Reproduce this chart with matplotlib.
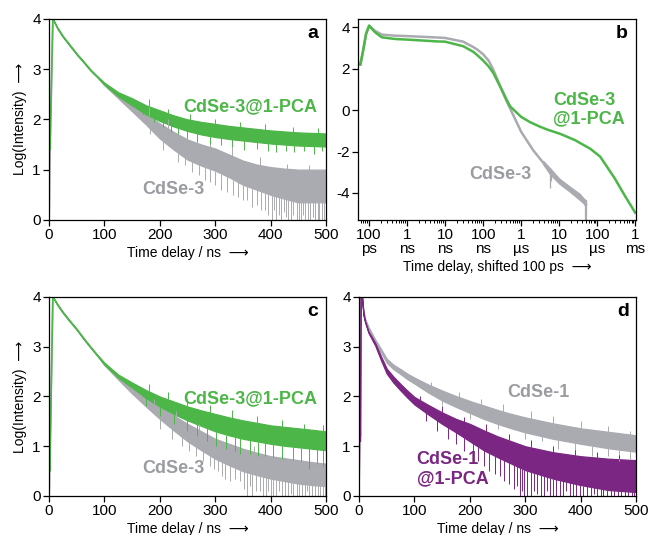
import numpy as np
import matplotlib
matplotlib.use('Agg')
import matplotlib.pyplot as plt
from matplotlib.ticker import LogLocator, NullFormatter

plt.rcParams['font.family'] = ['Liberation Sans', 'DejaVu Sans']
plt.rcParams['axes.unicode_minus'] = False

GREEN = '#4cb648'
GRAY = '#a9abb0'
GRAY_TXT = '#9a9ca1'
PURPLE = '#7a2682'

#
# panel a : CdSe-3 and CdSe-3@1-PCA, linear time (ns)
#
a_rise_t = [0, 0.8, 1.6, 7]
a_green_rise = [1.4, 2.25, 1.4, 4.0]
a_gray_rise = [0.0, 0.3, 1.0, 4.0]
a_t = [7, 15, 25, 35, 50, 62, 75, 87, 100, 125, 150, 175, 200, 225, 250, 275, 300, 325, 350, 375, 400, 425, 450, 475, 500]
a_green_hi = [4.0, 3.83, 3.66, 3.52, 3.31, 3.16, 2.99, 2.86, 2.73, 2.54, 2.42, 2.28, 2.18, 2.08, 2.0, 1.95, 1.91, 1.87, 1.84, 1.81, 1.78, 1.76, 1.74, 1.73, 1.72]
a_green_lo = [4.0, 3.81, 3.64, 3.5, 3.29, 3.14, 2.97, 2.84, 2.69, 2.46, 2.28, 2.1, 1.97, 1.86, 1.77, 1.7, 1.65, 1.61, 1.58, 1.55, 1.52, 1.5, 1.48, 1.47, 1.46]
a_gray_hi = [4.0, 3.83, 3.66, 3.52, 3.31, 3.16, 2.99, 2.86, 2.72, 2.5, 2.3, 2.1, 1.92, 1.75, 1.6, 1.5, 1.42, 1.3, 1.18, 1.1, 1.05, 1.02, 1.0, 1.0, 1.0]
a_gray_lo = [4.0, 3.81, 3.64, 3.5, 3.29, 3.14, 2.97, 2.84, 2.68, 2.42, 2.16, 1.9, 1.62, 1.4, 1.2, 1.08, 0.98, 0.85, 0.7, 0.6, 0.5, 0.42, 0.35, 0.35, 0.35]
a_gray_dip_t = [182, 205, 232, 245, 258, 270, 281, 290, 300, 311, 322, 333, 341, 350, 358, 367, 376, 383, 390, 396, 402, 406, 410, 415, 419, 424, 428, 432, 436, 441, 447, 451, 455, 459, 463, 468, 472, 477, 481, 485, 488, 492, 496]
a_gray_dip_v = [1.7, 1.4, 1.15, 1.1, 0.95, 0.9, 0.8, 0.75, 0.7, 0.6, 0.55, 0.5, 0.45, 0.4, 0.4, 0.25, 0.3, 0.2, 0.2, 0.1, 0.0, 0.2, 0.0, 0.1, 0.0, 0.15, 0.05, 0.0, 0.0, 0.1, 0.0, 0.0, 0.0, 0.1, 0.0, 0.0, 0.0, 0.05, 0.0, 0.0, 0.0, 0.0, 0.0]
a_gray_spk_t = [180, 215, 250, 290, 330, 380, 430, 470]
a_gray_spk_v = [2.25, 2.0, 1.75, 1.6, 1.45, 1.25, 1.12, 1.1]
a_green_dip_t = [170, 190, 205, 220, 232, 250, 268, 290, 310, 330, 352, 375, 395, 410, 428, 443, 460, 478, 492]
a_green_dip_v = [2.1, 1.95, 1.85, 1.75, 1.7, 1.62, 1.55, 1.52, 1.5, 1.45, 1.4, 1.42, 1.38, 1.35, 1.38, 1.35, 1.37, 1.32, 1.38]
a_green_spk_t = [180, 215, 255, 300, 345, 390, 440, 485]
a_green_spk_v = [2.4, 2.2, 2.1, 2.0, 1.95, 1.9, 1.84, 1.82]

#
# panel b : same samples, log time axis (ns)
#
b_green_t = [0.059, 0.071, 0.083, 0.1, 0.144, 0.216, 0.48, 1, 6.6, 10, 30, 55, 70, 100, 140, 184, 240, 306, 414, 510, 1000, 1700,
             3100, 5000, 10700, 26000, 66000, 1.2e5, 2.9e5, 5.4e5, 1e6]
b_green_v = [2.2, 2.95, 3.67, 4.08, 3.75, 3.51, 3.43, 3.4, 3.31, 3.3, 3.08, 2.81, 2.65, 2.39, 2.1, 1.8, 1.38, 1.0, 0.5, 0.18, -0.33, -0.58,
             -0.8, -0.95, -1.15, -1.45, -1.87, -2.25, -3.3, -4.15, -4.95]
b_gray_t = [0.059, 0.071, 0.083, 0.1, 0.144, 0.216, 0.48, 1, 6.6, 10, 30, 55, 70, 100, 140, 184, 240, 306, 414, 621, 1000, 2090, 3800,
            5740, 10000, 19300, 43400, 50900]
b_gray_v = [2.2, 2.95, 3.67, 4.05, 3.82, 3.64, 3.59, 3.57, 3.5, 3.48, 3.3, 3.04, 2.92, 2.69, 2.38, 1.96, 1.45, 0.98, 0.43, -0.25, -1.05,
            -1.95, -2.54, -2.94, -3.42, -3.82, -4.38, -4.55]
b_gray_noise_t = [3800, 5740, 10000, 19300, 35400, 43400, 50900]
b_gray_noise_hi = [-2.45, -2.8, -3.3, -3.7, -4.05, -4.25, -4.35]
b_gray_noise_lo = [-2.62, -3.1, -3.55, -3.95, -4.35, -4.5, -4.7]
b_gray_dip_t = [5700, 6200, 49000, 50500]
b_gray_dip_v = [-3.75, -3.4, -5.3, -5.3]
b_ticks = [0.1, 1, 10, 100, 1e3, 1e4, 1e5, 1e6]
b_ticklabels = ['100\nps', '1\nns', '10\nns', '100\nns', '1\nµs', '10\nµs', '100\nµs', '1\nms']

#
# panel c : second CdSe-3 / CdSe-3@1-PCA pair
#
c_rise_t = [0, 0.8, 1.6, 7]
c_green_rise = [0.0, 1.45, 0.5, 4.0]
c_gray_rise = [0.0, 0.2, 0.8, 4.0]
c_t = [7, 15, 25, 35, 50, 62, 75, 87, 100, 125, 150, 175, 200, 225, 250, 275, 300, 325, 350, 375, 400, 425, 450, 475, 500]
c_green_hi = [4.0, 3.86, 3.7, 3.56, 3.36, 3.18, 3.0, 2.84, 2.68, 2.44, 2.28, 2.13, 2.0, 1.9, 1.8, 1.72, 1.65, 1.58, 1.52, 1.47, 1.42, 1.39, 1.36, 1.33, 1.3]
c_green_lo = [4.0, 3.84, 3.68, 3.54, 3.34, 3.16, 2.98, 2.82, 2.64, 2.38, 2.18, 1.97, 1.8, 1.65, 1.52, 1.41, 1.3, 1.22, 1.15, 1.1, 1.05, 1.01, 0.98, 0.95, 0.92]
c_gray_hi = [4.0, 3.86, 3.7, 3.56, 3.36, 3.18, 3.0, 2.84, 2.67, 2.4, 2.18, 1.98, 1.8, 1.62, 1.45, 1.3, 1.15, 1.05, 0.95, 0.87, 0.8, 0.76, 0.72, 0.68, 0.65]
c_gray_lo = [4.0, 3.84, 3.68, 3.54, 3.34, 3.16, 2.98, 2.82, 2.63, 2.34, 2.06, 1.8, 1.55, 1.32, 1.1, 0.92, 0.75, 0.62, 0.5, 0.42, 0.35, 0.3, 0.25, 0.22, 0.2]
c_gray_dip_t = [200, 222, 240, 252, 265, 278, 290, 298, 305, 312, 318, 326, 335, 345, 352, 358, 363, 367, 374, 380, 386, 392, 396, 400, 405, 410, 415, 420, 426, 432, 437, 441, 447, 452, 457, 462, 466, 470, 475, 480, 485, 490, 494, 498]
c_gray_dip_v = [1.35, 1.15, 1.0, 0.9, 0.8, 0.7, 0.6, 0.55, 0.5, 0.4, 0.35, 0.3, 0.35, 0.3, 0.15, 0.0, 0.2, 0.0, 0.1, 0.1, 0.0, 0.0, 0.1, 0.0, 0.0, 0.0, 0.1, 0.0, 0.0, 0.0, 0.05, 0.0, 0.0, 0.0, 0.0, 0.0, 0.1, 0.0, 0.0, 0.0, 0.0, 0.0, 0.0, 0.0]
c_gray_spk_t = [190, 230, 270, 320, 370, 420, 470]
c_gray_spk_v = [1.95, 1.7, 1.45, 1.2, 1.0, 0.9, 0.85]
c_green_dip_t = [175, 200, 225, 250, 268, 285, 302, 320, 335, 345, 362, 378, 390, 405, 420, 440, 455, 470, 483, 495]
c_green_dip_v = [1.8, 1.6, 1.45, 1.3, 1.2, 1.1, 1.0, 0.95, 0.9, 0.85, 0.85, 0.8, 0.8, 0.78, 0.75, 0.72, 0.7, 0.55, 0.65, 0.6]
c_green_spk_t = [180, 215, 250, 290, 330, 375, 420, 460, 495]
c_green_spk_v = [2.25, 2.1, 1.95, 1.82, 1.72, 1.6, 1.52, 1.45, 1.42]

#
# panel d : CdSe-1 and CdSe-1@1-PCA
#
d_rise_t = [0, 1, 2.5, 4]
d_purple_rise = [0.0, 1.1, 1.1, 4.2]
d_gray_rise = [0.0, 1.7, 1.2, 4.2]
d_t = [4, 6, 8, 11, 17, 29, 40, 50, 62, 75, 87, 100, 125, 150, 175, 200, 225, 250, 275, 300, 350, 400, 450, 500]
d_purple_hi = [4.2, 3.9, 3.66, 3.51, 3.31, 3.08, 2.8, 2.56, 2.4, 2.25, 2.12, 1.99, 1.83, 1.68, 1.55, 1.45, 1.32, 1.2, 1.1, 1.0, 0.88, 0.8, 0.75, 0.72]
d_purple_lo = [4.2, 3.9, 3.64, 3.49, 3.28, 3.03, 2.72, 2.46, 2.28, 2.12, 1.98, 1.84, 1.64, 1.45, 1.28, 1.1, 0.92, 0.78, 0.65, 0.52, 0.35, 0.22, 0.12, 0.08]
d_gray_hi = [4.2, 3.95, 3.71, 3.56, 3.4, 3.15, 2.95, 2.76, 2.64, 2.55, 2.46, 2.38, 2.24, 2.12, 2.01, 1.91, 1.82, 1.73, 1.65, 1.58, 1.46, 1.36, 1.29, 1.22]
d_gray_lo = [4.2, 3.95, 3.69, 3.54, 3.36, 3.09, 2.88, 2.68, 2.55, 2.45, 2.35, 2.26, 2.08, 1.92, 1.79, 1.67, 1.55, 1.45, 1.36, 1.28, 1.15, 1.05, 0.96, 0.89]
d_purple_dip_t = [120, 140, 160, 175, 190, 205, 215, 225, 235, 245, 254, 262, 270, 280, 285, 290, 294, 298, 304, 310, 316, 322, 328, 334, 340, 345, 350, 356, 362, 368, 374, 380, 386, 392, 398, 405, 411, 418, 424, 430, 436, 441, 448, 455, 461, 467, 473, 480, 486, 492, 497]
d_purple_dip_v = [1.5, 1.3, 1.15, 1.05, 0.9, 0.75, 0.7, 0.6, 0.5, 0.45, 0.4, 0.3, 0.25, 0.15, 0.2, 0.0, 0.1, 0.0, 0.0, 0.0, 0.1, 0.05, 0.0, 0.0, 0.1, 0.0, 0.0, 0.0, 0.0, 0.0, 0.1, 0.0, 0.0, 0.0, 0.0, 0.0, 0.0, 0.0, 0.05, 0.0, 0.0, 0.0, 0.0, 0.0, 0.0, 0.0, 0.0, 0.0, 0.0, 0.0, 0.0]
d_purple_spk_t = [110, 150, 190, 230, 270, 310, 350, 390, 430, 470]
d_purple_spk_v = [2.0, 1.8, 1.58, 1.45, 1.25, 1.12, 1.0, 0.92, 0.88, 0.82]
d_gray_dip_t = [150, 200, 250, 300, 330, 360, 390, 420, 450, 470, 490]
d_gray_dip_v = [1.82, 1.55, 1.35, 1.15, 1.1, 0.95, 0.9, 0.8, 0.8, 0.7, 0.75]
d_gray_spk_t = [130, 180, 220, 260, 310, 350, 400, 450, 490]
d_gray_spk_v = [2.3, 2.1, 1.95, 1.85, 1.7, 1.6, 1.5, 1.4, 1.3]

ARROW = '  \u27f6'


def style(ax):
    for s in ax.spines.values():
        s.set_linewidth(0.9)
    ax.tick_params(direction='out', length=4, width=0.9, labelsize=11, pad=2)
    ax.tick_params(which='minor', direction='out', length=2, width=0.7)


def trace(ax, rt, rv, t, hi, lo, dip_t, dip_v, spk_t, spk_v, color):
    ax.plot(rt, rv, color=color, lw=1.2)
    ax.fill_between(t, lo, hi, color=color, lw=0.9)
    ax.vlines(dip_t, dip_v, np.interp(dip_t, t, lo), color=color, lw=0.7)
    ax.vlines(spk_t, np.interp(spk_t, t, hi), spk_v, color=color, lw=0.7)


def lin_panel(ax, letter, ylabel=True):
    style(ax)
    ax.set_xlim(0, 500)
    ax.set_ylim(0, 4)
    ax.set_xticks([0, 100, 200, 300, 400, 500])
    ax.set_yticks([0, 1, 2, 3, 4])
    ax.set_xlabel('Time delay / ns' + ARROW, fontsize=10, labelpad=3)
    if ylabel:
        ax.set_ylabel('Log(Intensity)' + ARROW, fontsize=10, labelpad=4)
    ax.text(0.953, 0.925, letter, transform=ax.transAxes, fontsize=14,
            fontweight='bold', ha='center', va='center')


fig = plt.figure(figsize=(6.49, 5.35), dpi=100)
ax_a = fig.add_axes([0.0755, 0.589, 0.4268, 0.3757])
ax_b = fig.add_axes([0.5516, 0.589, 0.4284, 0.3757])
ax_c = fig.add_axes([0.0755, 0.0729, 0.4268, 0.372])
ax_d = fig.add_axes([0.5532, 0.0729, 0.4268, 0.372])

# a
trace(ax_a, a_rise_t, a_gray_rise, a_t, a_gray_hi, a_gray_lo, a_gray_dip_t, a_gray_dip_v, a_gray_spk_t, a_gray_spk_v, GRAY)
trace(ax_a, a_rise_t, a_green_rise, a_t, a_green_hi, a_green_lo, a_green_dip_t, a_green_dip_v, a_green_spk_t, a_green_spk_v, GREEN)
lin_panel(ax_a, 'a')
ax_a.text(485, 2.26, 'CdSe-3@1-PCA', color=GREEN, fontsize=13, fontweight='bold', ha='right', va='center')
ax_a.text(224, 0.61, 'CdSe-3', color=GRAY_TXT, fontsize=13, fontweight='bold', ha='center', va='center')

# b
style(ax_b)
ax_b.set_xscale('log')
ax_b.plot(b_gray_t, b_gray_v, color=GRAY, lw=1.8)
ax_b.fill_between(b_gray_noise_t, b_gray_noise_lo, b_gray_noise_hi, color=GRAY, lw=0.8)
ax_b.vlines(b_gray_dip_t, b_gray_dip_v, np.interp(b_gray_dip_t, b_gray_noise_t, b_gray_noise_lo), color=GRAY, lw=0.9)
ax_b.plot(b_green_t, b_green_v, color=GREEN, lw=1.8)
ax_b.set_xlim(0.051, 1.05e6)
ax_b.set_ylim(-5.3, 4.4)
ax_b.set_yticks([-4, -2, 0, 2, 4])
ax_b.set_xticks(b_ticks)
ax_b.set_xticklabels(b_ticklabels, linespacing=0.95)
ax_b.xaxis.set_minor_locator(LogLocator(base=10, subs=np.arange(2, 10), numticks=20))
ax_b.xaxis.set_minor_formatter(NullFormatter())
ax_b.set_xlabel('Time delay, shifted 100 ps' + ARROW, fontsize=10, labelpad=3)
ax_b.text(0.95, 0.925, 'b', transform=ax_b.transAxes, fontsize=14, fontweight='bold', ha='center', va='center')
ax_b.text(7000, 0.03, 'CdSe-3\n@1-PCA', color=GREEN, fontsize=13, fontweight='bold', ha='left', va='center', linespacing=1.1)
ax_b.text(276, -3.1, 'CdSe-3', color=GRAY_TXT, fontsize=13, fontweight='bold', ha='center', va='center')

# c
trace(ax_c, c_rise_t, c_gray_rise, c_t, c_gray_hi, c_gray_lo, c_gray_dip_t, c_gray_dip_v, c_gray_spk_t, c_gray_spk_v, GRAY)
trace(ax_c, c_rise_t, c_green_rise, c_t, c_green_hi, c_green_lo, c_green_dip_t, c_green_dip_v, c_green_spk_t, c_green_spk_v, GREEN)
lin_panel(ax_c, 'c')
ax_c.text(484, 1.96, 'CdSe-3@1-PCA', color=GREEN, fontsize=13, fontweight='bold', ha='right', va='center')
ax_c.text(224, 0.55, 'CdSe-3', color=GRAY_TXT, fontsize=13, fontweight='bold', ha='center', va='center')

# d
trace(ax_d, d_rise_t, d_gray_rise, d_t, d_gray_hi, d_gray_lo, d_gray_dip_t, d_gray_dip_v, d_gray_spk_t, d_gray_spk_v, GRAY)
trace(ax_d, d_rise_t, d_purple_rise, d_t, d_purple_hi, d_purple_lo, d_purple_dip_t, d_purple_dip_v, d_purple_spk_t, d_purple_spk_v, PURPLE)
lin_panel(ax_d, 'd', ylabel=False)
ax_d.text(324, 2.09, 'CdSe-1', color=GRAY_TXT, fontsize=13, fontweight='bold', ha='center', va='center')
ax_d.text(104, 0.54, 'CdSe-1\n@1-PCA', color=PURPLE, fontsize=13, fontweight='bold', ha='left', va='center', linespacing=1.1)

fig.savefig('out.png', dpi=100)
